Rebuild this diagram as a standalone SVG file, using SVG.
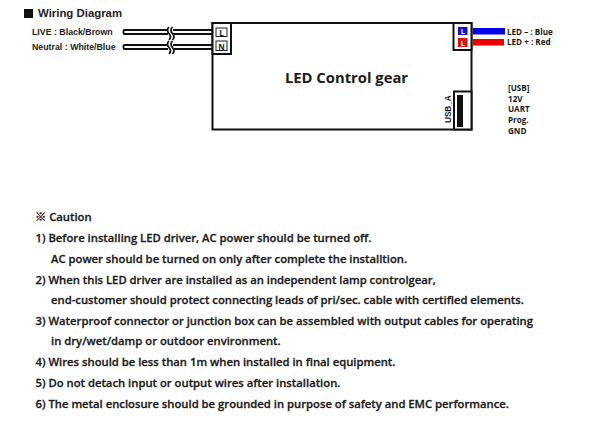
<svg xmlns="http://www.w3.org/2000/svg" width="600" height="426" viewBox="0 0 600 426">
<style>
text{font-family:"Open Sans","Noto Sans","DejaVu Sans",sans-serif;fill:#1a1a1a;font-weight:600}
.c{font-size:11.270px;stroke:#1a1a1a;stroke-width:.28}
.s{font-size:8.800px;font-weight:700;font-family:"Liberation Sans",sans-serif;fill:#222}
.u{font-size:8.100px;font-weight:700}
.box{fill:#fff;stroke:#111;stroke-width:2}
.lead{fill:#fff;stroke:#111;stroke-width:1.9}
.brk{fill:none;stroke:#111;stroke-width:1.700}
.tag{font-size:8px;font-weight:700;text-anchor:middle}
</style>
<rect width="600" height="426" fill="#fff"/>
<g id="title"><rect x="24" y="9" width="9" height="9" fill="#111"/><text x="38" y="17" style="font-size:11.400px;font-weight:700;font-family:'Liberation Sans',sans-serif;fill:#222">Wiring Diagram</text></g>
<g id="connectors">
<rect class="lead" x="123.500" y="30" width="90" height="4" rx="1"/>
<rect class="lead" x="123.500" y="45" width="90" height="4" rx="1"/>
<rect x="168" y="27" width="5" height="28" fill="#fff"/>
<path class="brk" d="M169 27q-3 3 0 6.500t0 6.500M172.500 27q-3 3 0 6.500t0 6.500M169 41q-3 3 0 6.500t0 6.500M172.500 41q-3 3 0 6.500t0 6.500"/>
<rect x="473" y="28" width="32" height="6.500" fill="#0000ee"/>
<rect x="473" y="39" width="31" height="6.500" fill="#ee0000"/>
</g>
<g id="gear"><rect class="box" x="212.500" y="23" width="259" height="106.500"/><text x="346.500" y="83" text-anchor="middle" style="font-size:14.800px;font-weight:700">LED Control gear</text></g>
<g id="input-terminal"><rect class="box" x="212.500" y="23" width="18.500" height="31"/>
<rect x="216" y="28" width="11" height="8.500" fill="#fff" stroke="#222"/><text class="tag" x="221.500" y="35.500">L</text>
<rect x="216" y="41" width="11" height="9.500" fill="#fff" stroke="#222"/><text class="tag" x="221.500" y="49.500">N</text></g>
<g id="output-terminal"><rect class="box" x="453.500" y="23" width="18" height="27"/>
<rect x="458" y="27" width="9.500" height="8" fill="#1010d0"/><text class="tag" x="462.800" y="34" style="fill:#fff;font-size:7px">L</text>
<rect x="458" y="38" width="9.500" height="9" fill="#e01010"/><text class="tag" x="462.800" y="46" style="fill:#fff;font-size:7px">L</text></g>
<g id="usb"><rect class="box" x="454" y="91.500" width="17.500" height="38"/><rect x="457" y="95" width="6" height="32" fill="#111"/>
<text transform="translate(450.500 123) rotate(-90)" style="font-size:8.200px;font-weight:700;font-family:'Liberation Sans',sans-serif">USB_A</text></g>
<g id="labels">
<text class="s" x="32" y="35">LIVE : Black/Brown</text>
<text class="s" x="32" y="50">Neutral : White/Blue</text>
<text class="u" x="507" y="34.500">LED – : Blue</text>
<text class="u" x="507" y="45">LED + : Red</text>
<text class="u" x="508" y="91">[USB]</text>
<text class="u" x="508" y="102">12V</text>
<text class="u" x="508" y="112">UART</text>
<text class="u" x="508" y="123">Prog.</text>
<text class="u" x="508" y="134">GND</text>
</g>
<g id="caution">
<text class="c" x="35" y="221"><tspan style="font-family:'Noto Sans CJK KR',sans-serif;font-weight:700">※</tspan> Caution</text>
<text class="c" x="35.500" y="242">1) Before installing LED driver, AC power should be turned off.</text>
<text class="c" x="51" y="263">AC power should be turned on only after complete the installtion.</text>
<text class="c" x="35.500" y="284">2) When this LED driver are installed as an independent lamp controlgear,</text>
<text class="c" x="51" y="304">end-customer should protect connecting leads of pri/sec. cable with certified elements.</text>
<text class="c" x="35.500" y="325">3) Waterproof connector or junction box can be assembled with output cables for operating</text>
<text class="c" x="51" y="345">in dry/wet/damp or outdoor environment.</text>
<text class="c" x="35.500" y="366">4) Wires should be less than 1m when installed in final equipment.</text>
<text class="c" x="35.500" y="387">5) Do not detach input or output wires after installation.</text>
<text class="c" x="35.500" y="408">6) The metal enclosure should be grounded in purpose of safety and EMC performance.</text>
</g>
</svg>
